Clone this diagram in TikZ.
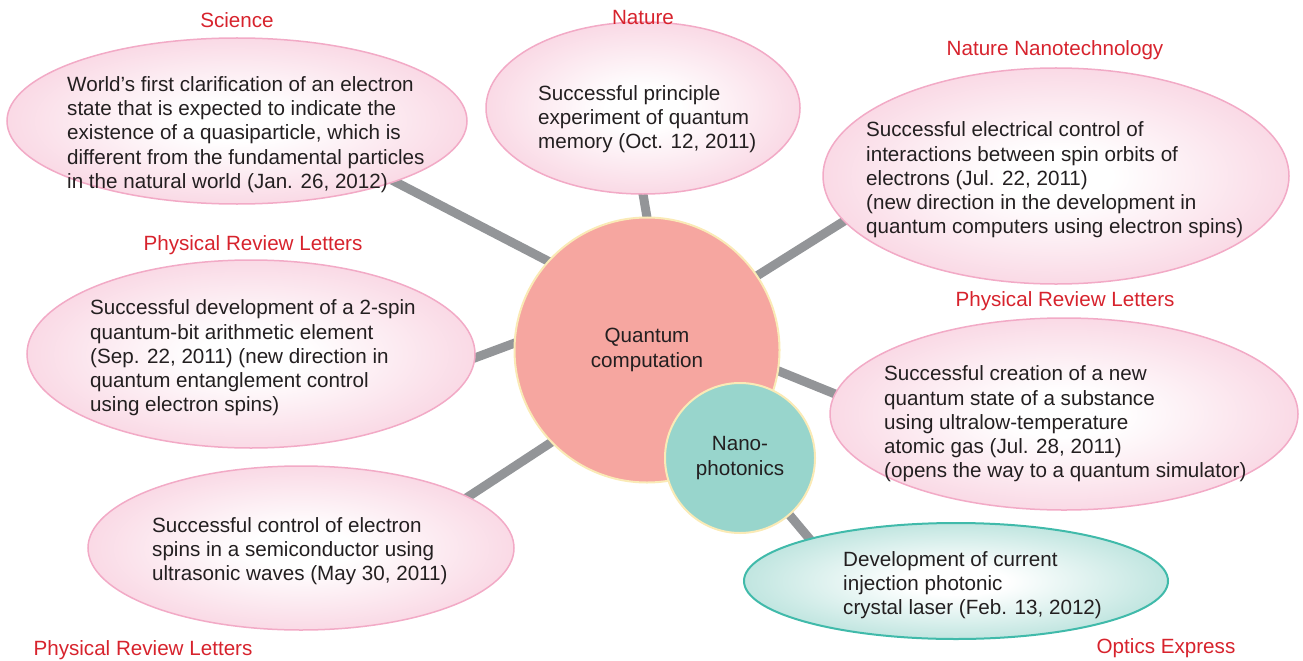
\documentclass[tikz,border=0pt]{standalone}
\usepackage{fontspec}
\setmainfont{Liberation Sans}
\usetikzlibrary{shapes.geometric}

\definecolor{txtcol}{RGB}{35,31,32}
\definecolor{journal}{RGB}{215,35,45}
\definecolor{pinkedge}{RGB}{242,170,198}
\definecolor{pinkout}{RGB}{246,192,212}
\definecolor{tealedge}{RGB}{64,186,170}
\definecolor{tealout}{RGB}{150,212,203}
\definecolor{qcfill}{RGB}{246,166,160}
\definecolor{npfill}{RGB}{152,213,204}
\definecolor{rimcol}{RGB}{250,234,182}
\definecolor{linkcol}{RGB}{147,149,152}

\pgfdeclareradialshading{pinkglow}{\pgfpoint{0bp}{0bp}}{%
  color(0bp)=(white); color(6bp)=(white); color(30bp)=(pinkout!75!white);
  color(50bp)=(pinkout); color(100bp)=(pinkout)}
\pgfdeclareradialshading{tealglow}{\pgfpoint{0bp}{0bp}}{%
  color(0bp)=(white); color(6bp)=(white); color(30bp)=(tealout!75!white);
  color(50bp)=(tealout); color(100bp)=(tealout)}

\pgfdeclarelayer{links}
\pgfsetlayers{links,main}

\tikzset{
  base/.style={font=\fontsize{20.7}{24.3}\selectfont},
  pinkell/.style={ellipse, shading=pinkglow, draw=pinkedge, line width=1.5bp,
    inner sep=0pt, outer sep=0pt},
  tealell/.style={ellipse, shading=tealglow, draw=tealedge, line width=2bp,
    inner sep=0pt, outer sep=0pt},
  hub/.style={circle, draw=rimcol, line width=2bp, inner sep=0pt, outer sep=0pt,
    base, text=txtcol, align=center},
  body/.style={base, text=txtcol, align=left, anchor=west, inner sep=0pt},
  journalname/.style={base, text=journal, anchor=base, inner sep=0pt},
  link/.style={draw=linkcol, line width=9bp, shorten <=-6bp, shorten >=-6bp}
}

\begin{document}
\begin{tikzpicture}[x=1bp,y=-1bp]
\useasboundingbox (0,0) rectangle (1303,660);

% topic ellipses
\node[pinkell, minimum width=460bp, minimum height=166bp] (sci) at (237,121) {};
\node[pinkell, minimum width=314bp, minimum height=172bp] (nat) at (643,108) {};
\node[pinkell, minimum width=466bp, minimum height=216bp] (nn) at (1056,176) {};
\node[pinkell, minimum width=448bp, minimum height=188bp] (pl) at (251,354) {};
\node[pinkell, minimum width=468bp, minimum height=192bp] (pr) at (1064,414) {};
\node[pinkell, minimum width=426bp, minimum height=164bp] (bl) at (301,548) {};
\node[tealell, minimum width=424bp, minimum height=116bp] (opt) at (956,581) {};

% central circles
\node[hub, fill=qcfill, minimum size=265bp] (qc) at (647,350) {Quantum\\computation};
\node[hub, fill=npfill, minimum size=150bp] (np) at (740,458) {Nano-\\photonics};

% connectors
\begin{pgfonlayer}{links}
\draw[link] (qc.138) -- (sci.-21);
\draw[link] (qc.90) -- (nat.-90);
\draw[link] (qc.34.6) -- (nn.192);
\draw[link] (qc.177) -- (pl.-1);
\draw[link] (qc.-9.4) -- (pr.175);
\draw[link] (qc.224) -- (bl.17);
\draw[link] (np.-49) -- (opt.164);
\end{pgfonlayer}

% descriptions
\node[body] (scit) at (67,134.5) {World’s first clarification of an electron\\state that is expected to indicate the\\existence of a quasiparticle, which is\\different from the fundamental particles\\in the natural world (Jan. 26, 2012)};
\node[body] (natt) at (538,119) {Successful principle\\experiment of quantum\\memory (Oct. 12, 2011)};
\node[body] (nnt) at (866,180) {Successful electrical control of\\interactions between spin orbits of\\electrons (Jul. 22, 2011)\\(new direction in the development in\\quantum computers using electron spins)};
\node[body] (plt) at (90,358) {Successful development of a 2-spin\\quantum-bit arithmetic element\\(Sep. 22, 2011) (new direction in\\quantum entanglement control\\using electron spins)};
\node[body] (prt) at (884,424) {Successful creation of a new\\quantum state of a substance\\using ultralow-temperature\\atomic gas (Jul. 28, 2011)\\(opens the way to a quantum simulator)};
\node[body] (blt) at (152,551) {Successful control of electron\\spins in a semiconductor using\\ultrasonic waves (May 30, 2011)};
\node[body] (optt) at (843,585) {Development of current\\injection photonic\\crystal laser (Feb. 13, 2012)};

% journal names
\node[journalname] (j1) at (237,27.5) {Science};
\node[journalname] (j2) at (643,24.5) {Nature};
\node[journalname] (j3) at (1055,55.5) {Nature Nanotechnology};
\node[journalname] (j4) at (253,250.5) {Physical Review Letters};
\node[journalname] (j5) at (1065,306.5) {Physical Review Letters};
\node[journalname] (j6) at (143,655.5) {Physical Review Letters};
\node[journalname] (j7) at (1166,653.5) {Optics Express};
\end{tikzpicture}
\end{document}
